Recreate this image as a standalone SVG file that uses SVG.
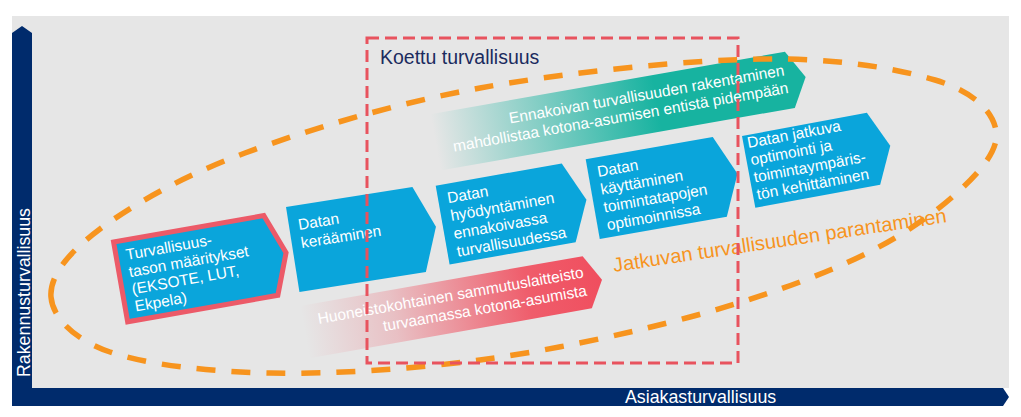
<svg xmlns="http://www.w3.org/2000/svg" width="1021" height="417" viewBox="0 0 1021 417">
<defs>
<linearGradient id="gTeal" x1="0" y1="0" x2="1" y2="0">
<stop offset="0" stop-color="#17b3a0" stop-opacity="0"/>
<stop offset="0.6" stop-color="#17b3a0" stop-opacity="1"/>
<stop offset="1" stop-color="#17b3a0" stop-opacity="1"/>
</linearGradient>
<linearGradient id="gRed" x1="0" y1="0" x2="1" y2="0">
<stop offset="0" stop-color="#f04e5e" stop-opacity="0"/>
<stop offset="0.3" stop-color="#f04e5e" stop-opacity="0.25"/>
<stop offset="0.75" stop-color="#f04e5e" stop-opacity="0.9"/>
<stop offset="1" stop-color="#f04e5e" stop-opacity="1"/>
</linearGradient>
</defs>
<style>
text{font-family:"Liberation Sans",Arial,sans-serif}
.axis{fill:#002b6c}
.axt{fill:#ffffff;font-size:17.8px}
.chev{fill:#0aa5db}
.ct{fill:#ffffff;font-size:15.5px}
.ell{fill:none;stroke:#f7941e;stroke-width:5.5;stroke-dasharray:19 16}
.box{fill:none;stroke:#e8535e;stroke-width:3;stroke-dasharray:12 6}
</style>
<rect x="12" y="16" width="997" height="372" fill="#e6e6e6"/>
<g id="axes">
<path class="axis" d="M12,388 L12,33 L22,26 L32,33 L32,388 Z"/>
<path class="axis" d="M12,388 L1003,388 L1009,397 L1003,406 L12,406 Z"/>
<text class="axt" transform="translate(29.5,377) rotate(-90)">Rakennusturvallisuus</text>
<text class="axt" x="625" y="403">Asiakasturvallisuus</text>
</g>
<g id="n-teal" transform="translate(430.4,114.3) rotate(-10)">
<path d="M0,0 H360 L376,28.5 L360,57 H0 Z" fill="url(#gTeal)"/>
<text class="ct" x="356" y="23" text-anchor="end">Ennakoivan turvallisuuden rakentaminen</text>
<text class="ct" x="357" y="41" text-anchor="end">mahdollistaa kotona-asumisen entistä pidempään</text>
</g>
<g id="n-red" transform="translate(300,306) rotate(-10)">
<path d="M0,0 H287 L302,26.5 L287,53 H0 Z" fill="url(#gRed)"/>
<text class="ct" x="285" y="21" text-anchor="end">Huoneistokohtainen sammutuslaitteisto</text>
<text class="ct" x="285" y="39.5" text-anchor="end">turvaamassa kotona-asumista</text>
</g>
<g id="n1" transform="translate(110.7,240) rotate(-10)">
<path class="chev" d="M2.5,2.5 H155 L170.5,43 L155,83.5 H2.5 Z" stroke="#ec5a68" stroke-width="5"/>
<text class="ct" x="12.3" y="22.5">Turvallisuus-</text>
<text class="ct" x="12.3" y="39.9">tason määritykset</text>
<text class="ct" x="12.3" y="57.4">(EKSOTE, LUT,</text>
<text class="ct" x="12.3" y="74.8">Ekpela)</text>
</g>
<g id="n2" transform="translate(286,207) rotate(-9)">
<path class="chev" d="M0,0 H128 L145,43 L128,86 H0 Z"/>
<text class="ct" x="9.2" y="24.7">Datan</text>
<text class="ct" x="9.2" y="43.2">kerääminen</text>
</g>
<g id="n3" transform="translate(435.7,185.7) rotate(-10)">
<path class="chev" d="M0,0 H128 L146,40 L128,80 H0 Z"/>
<text class="ct" x="9.3" y="19.5">Datan</text>
<text class="ct" x="9.3" y="37.6">hyödyntäminen</text>
<text class="ct" x="9.3" y="55.7">ennakoivassa</text>
<text class="ct" x="9.3" y="73.7">turvallisuudessa</text>
</g>
<g id="n4" transform="translate(585.7,159.3) rotate(-10)">
<path class="chev" d="M0,0 H129 L147,40.5 L129,81 H0 Z"/>
<text class="ct" x="9.3" y="19.5">Datan</text>
<text class="ct" x="9.3" y="37.6">käyttäminen</text>
<text class="ct" x="9.3" y="55.7">toimintatapojen</text>
<text class="ct" x="9.3" y="73.7">optimoinnissa</text>
</g>
<g id="n5" transform="translate(742,136) rotate(-10.5)">
<path class="chev" d="M0,0 H127 L144,36.5 L127,73 H0 Z"/>
<text class="ct" x="4" y="13">Datan jatkuva</text>
<text class="ct" x="4" y="30.5">optimointi ja</text>
<text class="ct" x="4" y="48">toimintaympäris-</text>
<text class="ct" x="4" y="65.5">tön kehittäminen</text>
</g>
<g id="regions">
<path id="ellipse" class="ell" d="M51,297 C49.3,276.5 67.7,253 100,229 C132.3,205 181.7,176.5 245,153 C308.3,129.5 394.2,103.7 480,88 C565.8,72.3 684.2,60.3 760,59 C835.8,57.7 895.7,68.2 935,80 C974.3,91.8 992.2,111.3 996,130 C999.8,148.7 981.5,170.5 958,192 C934.5,213.5 899.7,238.2 855,259 C810.3,279.8 752.5,300.2 690,317 C627.5,333.8 550,350.7 480,360 C410,369.3 331.7,374.3 270,373 C208.3,371.7 146.5,364.7 110,352 C73.5,339.3 52.7,317.5 51,297 Z"/>
<text transform="translate(614,272) rotate(-8.5)" fill="#f7941e" font-size="20px">Jatkuvan turvallisuuden parantaminen</text>
<rect id="koettu" class="box" x="367" y="38" width="371" height="325"/>
<text x="380" y="64" fill="#1b2b5e" font-size="19.5px">Koettu turvallisuus</text>
</g>
</svg>
